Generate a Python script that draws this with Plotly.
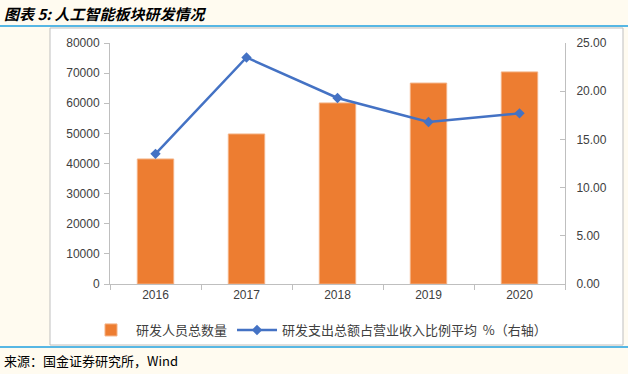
import plotly.graph_objects as go

years = ["2016", "2017", "2018", "2019", "2020"]
staff = [41500, 49800, 60100, 66700, 70400]
ratio = [13.5, 23.5, 19.3, 16.8, 17.7]
left_ticks = [0, 10000, 20000, 30000, 40000, 50000, 60000, 70000, 80000]
right_ticks = [0, 5, 10, 15, 20, 25]
right_labels = ["0.00", "5.00", "10.00", "15.00", "20.00", "25.00"]

W, H = 628, 374
L, R, T, B = 110, 565, 43, 284

def px(x):
    return (x - L) / (R - L)

def py(y):
    return (B - y) / (B - T)

fig = go.Figure()
fig.add_trace(go.Bar(
    x=years, y=staff, name="研发人员总数量",
    marker=dict(color="#ED7D31", line=dict(color="#F4B183", width=1)),
    width=0.4, yaxis="y",
))
fig.add_trace(go.Scatter(
    x=years, y=ratio, name="研发支出总额占营业收入比例平均  %（右轴）",
    mode="lines+markers",
    line=dict(color="#4472C4", width=2.5),
    marker=dict(symbol="diamond", size=8, color="#4472C4"),
    yaxis="y2",
))

axis_font = dict(family="Liberation Sans, Arial, sans-serif", size=12, color="#404040")

fig.update_layout(
    width=W, height=H,
    margin=dict(l=L, r=W - R, t=T, b=H - B, autoexpand=False),
    paper_bgcolor="#FFFBF0",
    plot_bgcolor="white",
    showlegend=True,
    bargap=0.6,
    xaxis=dict(
        type="category", showline=True, linecolor="#BFBFBF", linewidth=1,
        ticks="outside", tickson="boundaries", ticklen=5, tickcolor="#BFBFBF",
        tickfont=axis_font, showgrid=False, zeroline=False,
    ),
    yaxis=dict(
        range=[0, 80000], tickvals=left_ticks, tickformat="d", showline=True, linecolor="#BFBFBF",
        ticks="outside", ticklen=5, tickcolor="#BFBFBF", tickfont=axis_font,
        showgrid=False, zeroline=False, ticklabelstandoff=2,
    ),
    yaxis2=dict(
        range=[0, 25], tickvals=right_ticks, ticktext=right_labels,
        overlaying="y", side="right", showline=True, linecolor="#BFBFBF",
        ticks="inside", ticklen=5, tickcolor="#BFBFBF", tickfont=axis_font,
        showgrid=False, zeroline=False, ticklabelstandoff=8,
    ),
    legend=dict(
        orientation="h", x=px(86), y=py(315), xanchor="left", yanchor="top",
        font=dict(family="Noto Sans CJK SC", size=13, color="#404040"),
        bgcolor="rgba(0,0,0,0)", itemwidth=40, tracegroupgap=0,
    ),
    shapes=[
        dict(type="rect", xref="paper", yref="paper", layer="below",
             x0=px(50), x1=px(623), y0=py(345), y1=py(28),
             fillcolor="white", line=dict(color="#BFBFBF", width=1)),
        dict(type="line", xref="paper", yref="paper",
             x0=px(0), x1=px(628), y0=py(26), y1=py(26),
             line=dict(color="#1FA0E0", width=1.5)),
        dict(type="line", xref="paper", yref="paper",
             x0=px(0), x1=px(628), y0=py(347), y1=py(347),
             line=dict(color="#1FA0E0", width=1.5)),
    ],
    annotations=[
        dict(text="<b><i>图表 5: 人工智能板块研发情况</i></b>", xref="paper", yref="paper",
             x=px(2), y=py(13), xanchor="left", yanchor="middle", showarrow=False,
             font=dict(family="Noto Sans CJK SC", size=15, color="black")),
        dict(text="来源：国金证券研究所，Wind", xref="paper", yref="paper",
             x=px(2), y=py(360), xanchor="left", yanchor="middle", showarrow=False,
             font=dict(family="Noto Sans CJK SC", size=13, color="black")),
    ],
)

fig.write_html(
    "out.html",
    config={"displayModeBar": False},
    post_script="document.body.style.margin='0';document.body.style.padding='0';document.body.style.background='#FFFBF0';",
)
